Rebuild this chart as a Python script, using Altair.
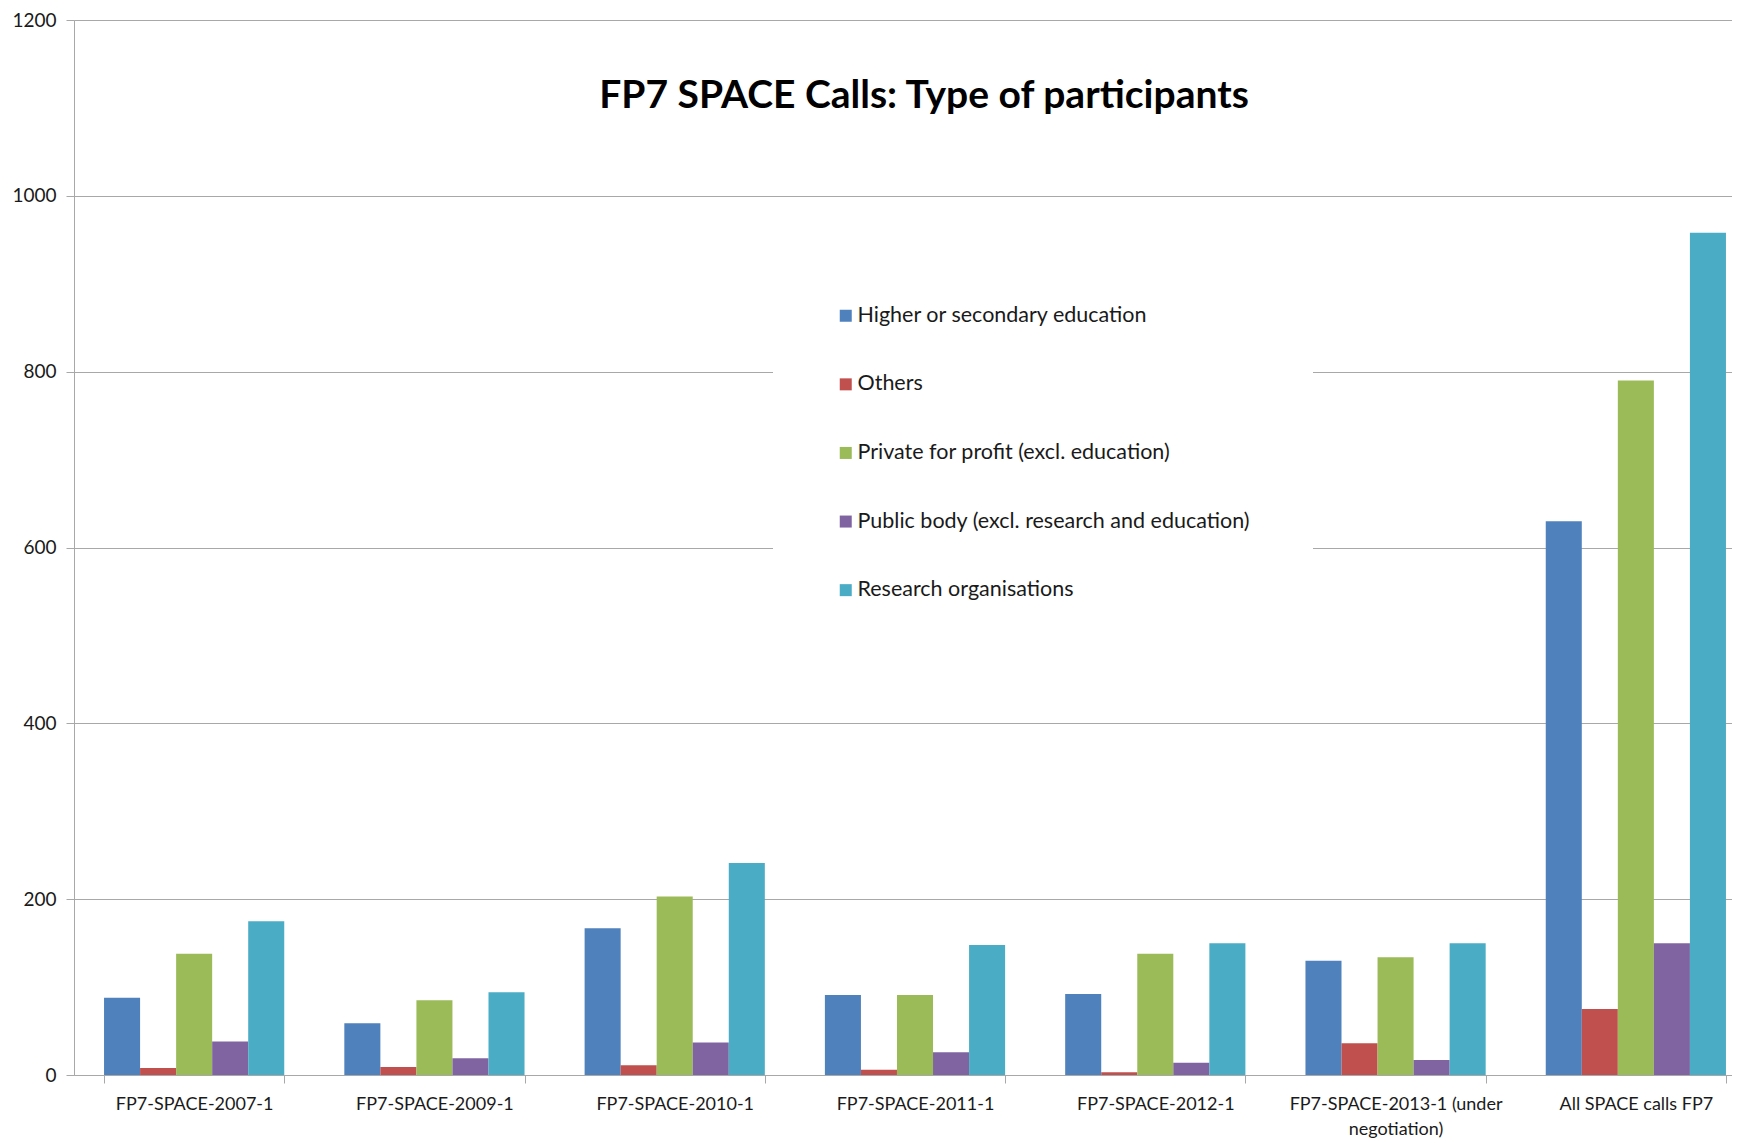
import altair as alt
import pandas as pd

categories = [
    "FP7-SPACE-2007-1",
    "FP7-SPACE-2009-1",
    "FP7-SPACE-2010-1",
    "FP7-SPACE-2011-1",
    "FP7-SPACE-2012-1",
    "FP7-SPACE-2013-1 (under negotiation)",
    "All SPACE calls FP7",
]
series = [
    "Higher or secondary education",
    "Others",
    "Private for profit (excl. education)",
    "Public body (excl. research and education)",
    "Research organisations",
]
higher = [88, 59, 167, 91, 92, 130, 630]
others = [8, 9, 11, 6, 3, 36, 75]
private = [138, 85, 203, 91, 138, 134, 790]
public = [38, 19, 37, 26, 14, 17, 150]
research = [175, 94, 241, 148, 150, 150, 958]
colors = ["#4F81BD", "#C0504D", "#9BBB59", "#8064A2", "#4BACC6"]
y_ticks = [0, 200, 400, 600, 800, 1000, 1200]
chart_title = "FP7 SPACE Calls: Type of participants"

rows = []
for s, vals in zip(series, [higher, others, private, public, research]):
    for c, v in zip(categories, vals):
        rows.append({"category": c, "type": s, "value": v})
df = pd.DataFrame(rows)

FONT = "Lato"
GRID = "#a8a8a8"

bars = alt.Chart(df).mark_bar().encode(
    x=alt.X(
        "category:N",
        sort=categories,
        title=None,
        scale=alt.Scale(range=[0, 1682], paddingInner=0.25, paddingOuter=0.125),
        axis=alt.Axis(
            labelAngle=0,
            labelFont=FONT,
            labelFontSize=18,
            labelColor="#1a1a1a",
            labelPadding=12,
            labelLimit=400,
            labelLineHeight=25,
            labelExpr="datum.label == 'FP7-SPACE-2013-1 (under negotiation)' ? ['FP7-SPACE-2013-1 (under', 'negotiation)'] : datum.label",
            tickBand="extent",
            tickSize=8,
            tickColor=GRID,
            domainColor=GRID,
            grid=False,
        ),
    ),
    xOffset=alt.XOffset("type:N", sort=series, scale=alt.Scale(paddingInner=0, paddingOuter=0)),
    y=alt.Y(
        "value:Q",
        title=None,
        scale=alt.Scale(domain=[0, 1200], nice=False),
        axis=alt.Axis(
            values=y_ticks,
            format="d",
            labelFont=FONT,
            labelFontSize=19,
            labelColor="#1a1a1a",
            labelPadding=10,
            tickSize=8,
            tickColor=GRID,
            domainColor=GRID,
            gridColor=GRID,
            gridWidth=1.2,
        ),
    ),
    color=alt.Color(
        "type:N",
        sort=series,
        scale=alt.Scale(domain=series, range=colors),
        legend=alt.Legend(
            title=None,
            orient="none",
            legendX=699,
            legendY=223,
            padding=62,
            fillColor="white",
            rowPadding=45.6,
            symbolType="square",
            symbolSize=144,
            symbolStrokeWidth=0,
            labelFont=FONT,
            labelFontSize=21.5,
            labelColor="#1a1a1a",
            labelOffset=1,
            labelLimit=700,
        ),
    ),
)

title_layer = alt.Chart(pd.DataFrame({"t": [chart_title]})).mark_text(
    font=FONT, fontSize=39, fontWeight="bold", color="#000000",
    align="center", baseline="middle",
).encode(text="t:N", x=alt.value(850), y=alt.value(76))

chart = alt.layer(bars, title_layer).properties(
    width=1658,
    height=1055,
    autosize=alt.AutoSizeParams(type="none"),
    padding={"left": 66, "top": 12, "right": 0, "bottom": 68},
).configure_view(stroke=None).configure(background="white")

chart.save("out.html", embed_options={"renderer": "svg", "actions": False})
